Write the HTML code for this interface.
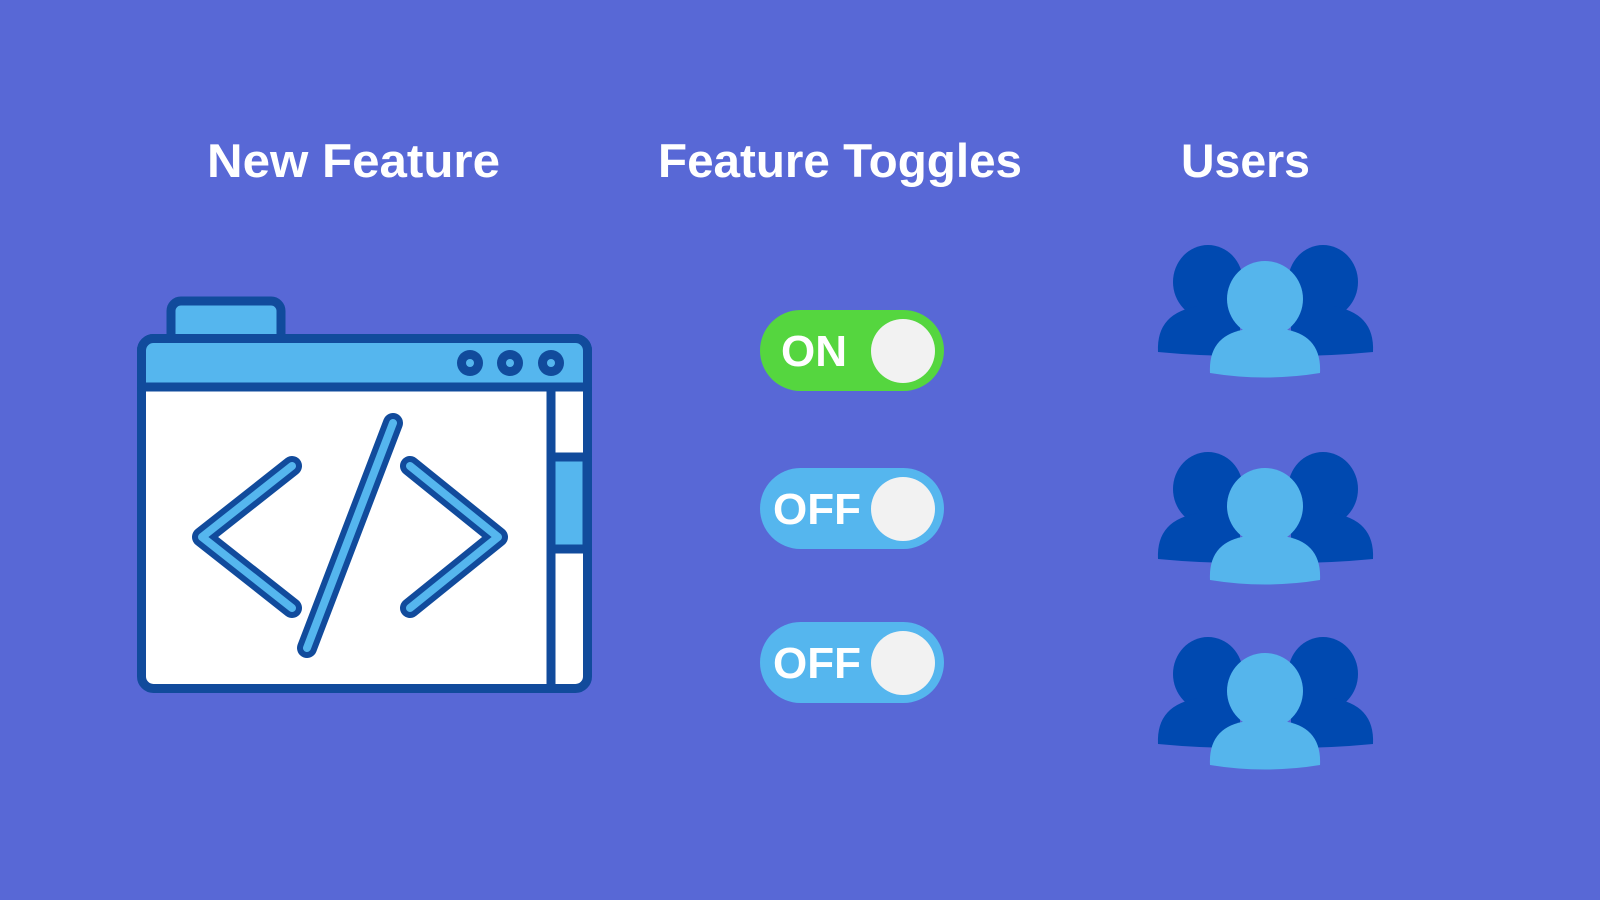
<!DOCTYPE html>
<html><head><meta charset="utf-8"><style>
html,body{margin:0;padding:0;background:#5868D6;}
svg{display:block}
</style></head><body>
<svg width="1600" height="900" viewBox="0 0 1600 900" xmlns="http://www.w3.org/2000/svg">
<rect width="1600" height="900" fill="#5868D6"/>
<g font-family="Liberation Sans, sans-serif" font-weight="bold" font-size="47" fill="#FFFFFF">
<text x="207" y="177" textLength="293" lengthAdjust="spacingAndGlyphs">New Feature</text>
<text x="658" y="177" textLength="364" lengthAdjust="spacingAndGlyphs">Feature Toggles</text>
<text x="1181" y="177" textLength="129" lengthAdjust="spacingAndGlyphs">Users</text>
</g>
<!-- browser -->
<g stroke="#114B9C" stroke-width="9" stroke-linejoin="round">
<rect x="171" y="301" width="110" height="60" rx="10" fill="#55B6EE"/>
<rect x="141.5" y="338.5" width="446" height="350" rx="12" fill="#FFFFFF"/>
<path d="M141.5 387 V350.5 a12 12 0 0 1 12 -12 H575.5 a12 12 0 0 1 12 12 V387 Z" fill="#55B6EE"/>
<rect x="551" y="457" width="36" height="92" fill="#55B6EE"/>
<line x1="551" y1="387" x2="551" y2="688"/>
</g>
<g fill="#114B9C">
<circle cx="470" cy="363" r="13"/><circle cx="510" cy="363" r="13"/><circle cx="551" cy="363" r="13"/>
</g>
<g fill="#55B6EE">
<circle cx="470" cy="363" r="4"/><circle cx="510" cy="363" r="4"/><circle cx="551" cy="363" r="4"/>
</g>
<g fill="none" stroke-linecap="round" stroke-linejoin="round">
<g stroke="#114B9C" stroke-width="20">
<polyline points="292,466 202,537 292,608"/>
<polyline points="410,466 498,537 410,608"/>
<line x1="393" y1="423" x2="307" y2="648"/>
</g>
<g stroke="#55B6EE" stroke-width="8">
<polyline points="292,466 202,537 292,608"/>
<polyline points="410,466 498,537 410,608"/>
<line x1="393" y1="423" x2="307" y2="648"/>
</g>
</g>
<!-- toggles -->
<g font-family="Liberation Sans, sans-serif" font-weight="bold" font-size="44" fill="#FFFFFF">
<rect x="760" y="310" width="184" height="81" rx="40.5" fill="#55D63F"/>
<circle cx="903" cy="351" r="32" fill="#F2F2F2"/>
<text x="781" y="366">ON</text>
<rect x="760" y="468" width="184" height="81" rx="40.5" fill="#55B6EE"/>
<circle cx="903" cy="509" r="32" fill="#F2F2F2"/>
<text x="773" y="524">OFF</text>
<rect x="760" y="622" width="184" height="81" rx="40.5" fill="#55B6EE"/>
<circle cx="903" cy="663" r="32" fill="#F2F2F2"/>
<text x="773" y="678">OFF</text>
</g>
<!-- users -->
<defs>
<g id="u">
<ellipse cx="1208" cy="282" rx="35" ry="37" fill="#0049B0"/>
<ellipse cx="1323" cy="282" rx="35" ry="37" fill="#0049B0"/>
<path d="M1158 352 Q1156 312 1200 306 L1240 306 L1240 356 Q1200 356 1158 352 Z" fill="#0049B0"/>
<path d="M1373 352 Q1375 312 1331 306 L1291 306 L1291 356 Q1331 356 1373 352 Z" fill="#0049B0"/>
<ellipse cx="1265" cy="299" rx="38" ry="38" fill="#55B5EC"/>
<path d="M1210 373 Q1208 334 1248 329 L1282 329 Q1322 334 1320 373 Q1265 382 1210 373 Z" fill="#55B5EC"/>
</g>
</defs>
<use href="#u"/>
<use href="#u" y="207"/>
<use href="#u" y="392"/>
</svg>
</body></html>
